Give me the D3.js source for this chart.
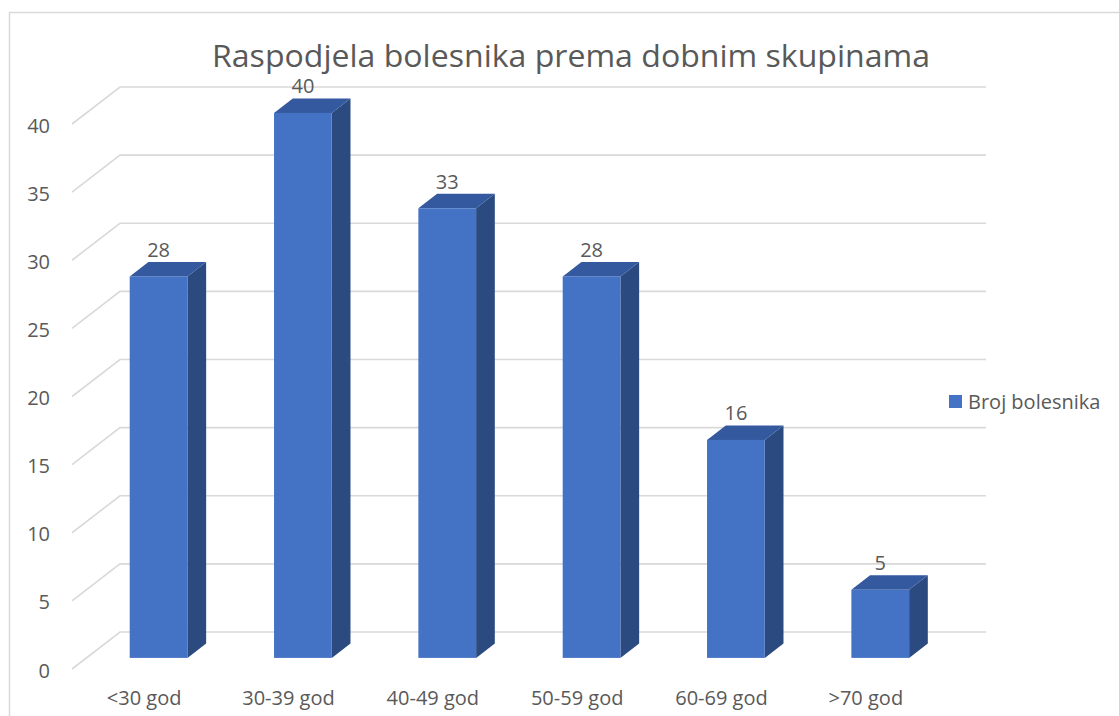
<!DOCTYPE html>
<html>
<head>
<meta charset="utf-8">
<script src="https://cdn.jsdelivr.net/npm/d3@7/dist/d3.min.js"></script>
<style>
  html, body { margin: 0; padding: 0; background: #fff; }
  svg { display: block; }
  text { font-family: "Open Sans", "Noto Sans", sans-serif; fill: #595959; }
</style>
</head>
<body>
<svg id="chart" width="1119" height="716"></svg>
<script>
const title = "Raspodjela bolesnika prema dobnim skupinama";
const categories = ["<30 god", "30-39 god", "40-49 god", "50-59 god", "60-69 god", ">70 god"];
const values = [28, 40, 33, 28, 16, 5];
const seriesName = "Broj bolesnika";
const yTicks = [0, 5, 10, 15, 20, 25, 30, 35, 40];

const svg = d3.select("#chart");
const W = 1119, H = 716;

// chart frame
svg.append("path")
  .attr("d", `M9.5,${H + 2} V12.5 H${W + 2}`)
  .attr("fill", "none").attr("stroke", "#d9d9d9").attr("stroke-width", 1.5);

// oblique 3D geometry
const depth = [48, -37];              // full depth vector (front plane -> back wall)
const frontLeft = 72, frontRight = 938;
const y = d3.scaleLinear().domain([0, 40]).range([669, 124]);   // front plane
const x = d3.scaleBand().domain(categories).range([frontLeft, frontRight]).padding(0);
const barFrac = 0.4;                  // bar width relative to band
const f1 = 0.30, f2 = 0.69;           // depth fractions of bar front / back faces

const grid = svg.append("g");
yTicks.forEach(t => {
  const yf = y(t);
  grid.append("path")
    .attr("d", `M${frontLeft},${yf} L${frontLeft + depth[0]},${yf + depth[1]} H${frontRight + depth[0]}`)
    .attr("fill", "none").attr("stroke", "#d9d9d9").attr("stroke-width", 1.6);
});

// y tick labels
svg.append("g").selectAll("text").data(yTicks).join("text")
  .attr("x", 50).attr("y", d => y(d) + 1)
  .attr("text-anchor", "end").attr("dominant-baseline", "central")
  .style("font-size", "20px")
  .text(d => d);

// bars
const bars = svg.append("g");
categories.forEach((c, i) => {
  const v = values[i];
  const bw = x.bandwidth() * barFrac;
  const cx = x(c) + x.bandwidth() / 2;
  const fx = cx - bw / 2 + depth[0] * f1;
  const fy0 = y(0) + depth[1] * f1;
  const fyv = y(v) + depth[1] * f1;
  const dx = depth[0] * (f2 - f1), dy = depth[1] * (f2 - f1);
  // side
  bars.append("path")
    .attr("d", `M${fx + bw},${fyv} L${fx + bw + dx},${fyv + dy} L${fx + bw + dx},${fy0 + dy} L${fx + bw},${fy0} Z`)
    .attr("fill", "#2a4a80");
  // top
  bars.append("path")
    .attr("d", `M${fx},${fyv} L${fx + dx},${fyv + dy} L${fx + bw + dx},${fyv + dy} L${fx + bw},${fyv} Z`)
    .attr("fill", "#34599e");
  // front
  bars.append("rect")
    .attr("x", fx).attr("y", fyv).attr("width", bw).attr("height", fy0 - fyv)
    .attr("fill", "#4472c4");
  // value label
  svg.append("text")
    .attr("x", fx + bw / 2).attr("y", fyv + dy - 5)
    .attr("text-anchor", "middle")
    .style("font-size", "20px")
    .text(v);
});

// category labels
svg.append("g").selectAll("text").data(categories).join("text")
  .attr("x", d => x(d) + x.bandwidth() / 2).attr("y", 705)
  .attr("text-anchor", "middle")
  .style("font-size", "20px")
  .text(d => d);

// title
svg.append("text")
  .attr("x", 571).attr("y", 67)
  .attr("text-anchor", "middle")
  .attr("textLength", 718).attr("lengthAdjust", "spacingAndGlyphs")
  .style("font-size", "31px")
  .text(title);

// legend
svg.append("rect").attr("x", 949).attr("y", 395).attr("width", 13).attr("height", 13).attr("fill", "#4472c4");
svg.append("text").attr("x", 968).attr("y", 409)
  .style("font-size", "20px")
  .text(seriesName);
</script>
</body>
</html>
